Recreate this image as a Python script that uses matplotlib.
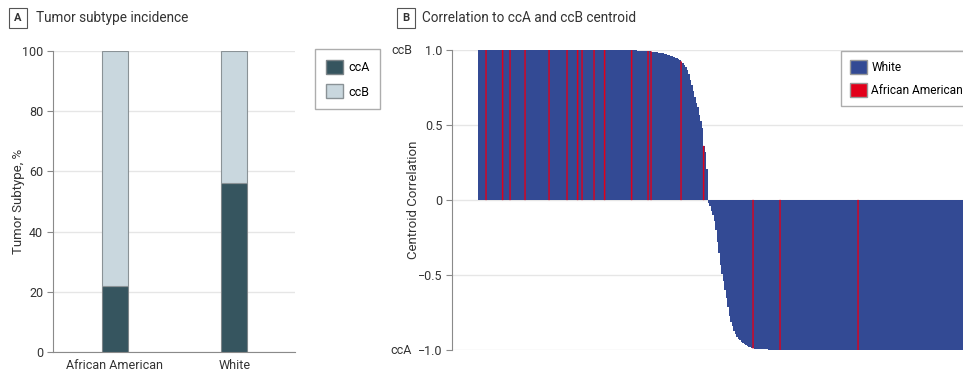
import matplotlib.pyplot as plt
from matplotlib.patches import Patch

plt.rcParams['font.family'] = ['Roboto', 'DejaVu Sans']

# panel A: subtype share per group (%)
groups = ['African American', 'White']
cca_pct = [22, 56]
ccb_pct = [78, 44]

# panel B: correlation to centroid, samples sorted (ccB positive, ccA negative)
corr_pos = [
    1.00, 1.00, 1.00, 1.00, 1.00, 1.00, 1.00, 1.00, 1.00, 1.00, 1.00, 1.00, 1.00, 1.00, 1.00, 1.00, 1.00, 1.00, 1.00, 1.00,
    1.00, 1.00, 1.00, 1.00, 1.00, 1.00, 1.00, 1.00, 1.00, 1.00, 1.00, 1.00, 1.00, 1.00, 1.00, 1.00, 1.00, 1.00, 1.00, 1.00,
    1.00, 1.00, 1.00, 1.00, 1.00, 1.00, 1.00, 1.00, 1.00, 1.00, 1.00, 1.00, 1.00, 1.00, 1.00, 1.00, 1.00, 1.00, 1.00, 1.00,
    1.00, 1.00, 1.00, 1.00, 1.00, 1.00, 1.00, 1.00, 1.00, 1.00, 1.00, 1.00, 1.00, 1.00, 1.00, 1.00, 1.00, 1.00, 1.00, 1.00,
    1.00, 1.00, 1.00, 1.00, 1.00, 1.00, 1.00, 1.00, 1.00, 1.00, 1.00, 1.00, 1.00, 1.00, 1.00, 1.00, 1.00, 1.00, 1.00, 1.00,
    0.999, 0.999, 0.998, 0.998, 0.997, 0.997, 0.996, 0.996, 0.995, 0.995,
    0.994, 0.993, 0.993, 0.992, 0.991, 0.990, 0.989, 0.988, 0.987, 0.985,
    0.983, 0.981, 0.979, 0.977, 0.975, 0.972, 0.969, 0.966, 0.962, 0.958,
    0.954, 0.949, 0.944, 0.938, 0.931, 0.923, 0.912, 0.899, 0.884, 0.866,
    0.84, 0.80, 0.77, 0.73, 0.69, 0.65, 0.62, 0.57, 0.53, 0.48, 0.36, 0.32, 0.21,
]
corr_neg = [
    -0.02, -0.04, -0.07, -0.10, -0.14, -0.20, -0.28, -0.35, -0.43, -0.49, -0.54, -0.60, -0.65, -0.71, -0.77,
    -0.81, -0.84, -0.87, -0.89, -0.91, -0.925, -0.935, -0.945, -0.955, -0.962, -0.968, -0.974, -0.979, -0.983, -0.986,
    -0.988, -0.990, -0.991, -0.992, -0.993, -0.994, -0.995, -0.995, -0.996, -0.996,
    -0.997, -0.997, -0.997, -0.998, -0.998, -0.998, -0.998, -0.999, -0.999, -0.999,
    -1.00, -1.00, -1.00, -1.00, -1.00, -1.00, -1.00, -1.00, -1.00, -1.00, -1.00, -1.00, -1.00, -1.00, -1.00, -1.00, -1.00, -1.00, -1.00, -1.00,
    -1.00, -1.00, -1.00, -1.00, -1.00, -1.00, -1.00, -1.00, -1.00, -1.00, -1.00, -1.00, -1.00, -1.00, -1.00, -1.00, -1.00, -1.00, -1.00, -1.00,
    -1.00, -1.00, -1.00, -1.00, -1.00, -1.00, -1.00, -1.00, -1.00, -1.00, -1.00, -1.00, -1.00, -1.00, -1.00, -1.00, -1.00, -1.00, -1.00, -1.00,
    -1.00, -1.00, -1.00, -1.00, -1.00, -1.00, -1.00, -1.00, -1.00, -1.00, -1.00, -1.00, -1.00, -1.00, -1.00, -1.00, -1.00, -1.00, -1.00, -1.00,
    -1.00, -1.00, -1.00, -1.00, -1.00, -1.00, -1.00, -1.00, -1.00, -1.00, -1.00, -1.00, -1.00, -1.00, -1.00, -1.00, -1.00, -1.00, -1.00, -1.00,
    -1.00, -1.00, -1.00, -1.00, -1.00, -1.00, -1.00, -1.00, -1.00, -1.00, -1.00, -1.00, -1.00, -1.00, -1.00, -1.00, -1.00, -1.00, -1.00, -1.00,
    -1.00, -1.00, -1.00, -1.00, -1.00, -1.00, -1.00, -1.00, -1.00, -1.00, -1.00, -1.00, -1.00, -1.00, -1.00, -1.00, -1.00, -1.00, -1.00, -1.00,
    -1.00, -1.00, -1.00, -1.00, -1.00, -1.00,
]
# sample positions of African American patients
aa_idx = [5, 16, 21, 31, 47, 59, 66, 69, 77, 84, 102, 113, 115, 135, 150, 183, 201, 253]

corr = corr_pos + corr_neg

CCA = '#36555f'
CCB = '#c9d7de'
BLUE = '#334a94'
RED = '#e2001a'
GRID = '#e6e6e6'
SPINE = '#8a8a8a'
TXT = '#333333'
FS = 9

fig = plt.figure(figsize=(9.63, 3.78), dpi=100)

# ---------------- panel A ----------------
axA = fig.add_axes([53/963, 26/378, 242/963, 301/378])
x = list(range(len(groups)))
axA.bar(x, cca_pct, 0.22, color=CCA, edgecolor='#7d8589', lw=0.8, label='ccA', zorder=3)
axA.bar(x, ccb_pct, 0.22, bottom=cca_pct, color=CCB, edgecolor='#8a9296', lw=0.8, label='ccB', zorder=3)
axA.set_xlim(-0.52, 1.51)
axA.set_ylim(0, 100)
axA.set_yticks([0, 20, 40, 60, 80, 100])
axA.set_xticks(x)
axA.set_xticklabels(groups)
axA.yaxis.grid(True, color=GRID, lw=1, zorder=0)
axA.set_axisbelow(True)
for s in ['top', 'right']:
    axA.spines[s].set_visible(False)
for s in ['left', 'bottom']:
    axA.spines[s].set_color(SPINE)
axA.tick_params(axis='y', colors=SPINE, labelcolor=TXT, labelsize=FS, length=4, pad=3)
axA.tick_params(axis='x', length=0, labelcolor=TXT, labelsize=FS, pad=5)
axA.set_ylabel('Tumor Subtype, %', fontsize=FS + 0.5, color=TXT)
axA.yaxis.set_label_coords((25 - 53) / 242, 0.5)
axA.legend(handles=[Patch(fc=CCA, ec='#7d8589', label='ccA'), Patch(fc=CCB, ec='#8a9296', label='ccB')],
           loc='upper left', bbox_to_anchor=(315/963, 1-49/378), bbox_transform=fig.transFigure,
           fontsize=FS, frameon=True, fancybox=False, edgecolor='#999999', handlelength=1.35,
           handleheight=1.35, borderpad=0.85, labelspacing=0.85, handletextpad=0.45, borderaxespad=0)

# ---------------- panel B ----------------
w = 1.5  # px per sample
n = len(corr)
xmin = -26 / w
ax_w = (478 + n * w) - 452
axB = fig.add_axes([452/963, 28/378, ax_w/963, 300/378])
axB.stairs(corr, range(n + 1), baseline=0, fill=True, color=BLUE, zorder=3)
axB.bar(aa_idx, [corr[i] for i in aa_idx], width=0.75, align='edge',
        color=RED, edgecolor=RED, lw=0.2, zorder=4, snap=False)
axB.set_xlim(xmin, n)
axB.set_ylim(-1, 1)
axB.set_yticks([1.0, 0.5, 0, -0.5, -1.0])
axB.set_yticklabels(['1.0', '0.5', '0', '\u22120.5', '\u22121.0'])
axB.set_xticks([])
axB.yaxis.grid(True, color=GRID, lw=1, zorder=0)
axB.set_axisbelow(True)
for s in ['top', 'right', 'bottom']:
    axB.spines[s].set_visible(False)
axB.spines['left'].set_color(SPINE)
axB.tick_params(axis='y', colors=SPINE, labelcolor=TXT, labelsize=FS, length=4, pad=3)
axB.set_ylabel('Centroid Correlation', fontsize=FS + 0.5, color=TXT)
axB.yaxis.set_label_coords((420 - 452) / ax_w, 0.5)
fig.text(402/963, 1-50/378, 'ccB', fontsize=FS, color=TXT, ha='center', va='center')
fig.text(401/963, 1-350/378, 'ccA', fontsize=FS, color=TXT, ha='center', va='center')
axB.legend(handles=[Patch(fc=BLUE, ec='#999999', label='White'), Patch(fc=RED, ec='#999999', label='African American')],
           loc='upper left', bbox_to_anchor=(841/963, 1-51/378), bbox_transform=fig.transFigure,
           fontsize=8.6, frameon=True, fancybox=False, edgecolor='#999999', handlelength=1.4,
           handleheight=1.4, borderpad=0.75, labelspacing=0.75, handletextpad=0.4, borderaxespad=0)

# panel headers
box = dict(boxstyle='square,pad=0.45', fc='white', ec='#555555', lw=0.8)
fig.text(18/963, 1-18/378, 'A', fontsize=8, weight='bold', color=TXT, ha='center', va='center', bbox=box)
fig.text(36/963, 1-18/378, 'Tumor subtype incidence', fontsize=9.8, color=TXT, va='center')
fig.text(406/963, 1-18/378, 'B', fontsize=8, weight='bold', color=TXT, ha='center', va='center', bbox=box)
fig.text(422/963, 1-18/378, 'Correlation to ccA and ccB centroid', fontsize=9.8, color=TXT, va='center')

fig.savefig('out.png', dpi=100)
